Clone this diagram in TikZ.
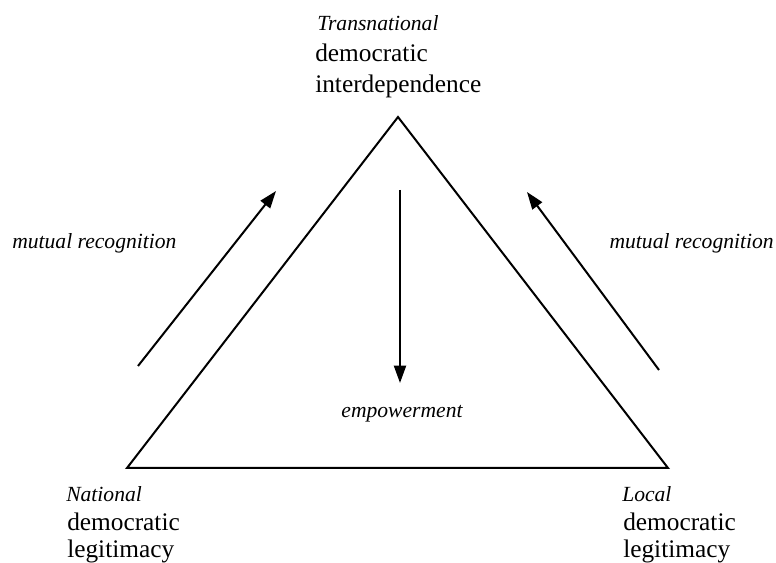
\documentclass[tikz,border=0pt]{standalone}
\usepackage{fontspec}
\setmainfont{Liberation Serif}
\usetikzlibrary{arrows.meta}
\begin{document}
\begin{tikzpicture}[x=0.75pt,y=-0.75pt,
  edge/.style={line width=1.5pt},
  arr/.style={line width=1.5pt,-{Triangle[length=13pt,width=9pt]}},
  lbl/.style={inner sep=0pt,anchor=base west,font=\fontsize{19}{22}\selectfont},
  ilbl/.style={inner sep=0pt,anchor=base west,font=\fontsize{16.2}{20}\selectfont\itshape}]
\useasboundingbox (0,0) rectangle (776,563);
\coordinate (T) at (398,117);
\coordinate (L) at (127,468);
\coordinate (R) at (668,468);
\draw[edge,line join=miter] (T) -- (L) -- (R) -- cycle;
\coordinate (a1s) at (138,366);
\coordinate (a1e) at (276,191);
\coordinate (a2s) at (659,370);
\coordinate (a2e) at (527,192);
\coordinate (a3s) at (400,190);
\coordinate (a3e) at (400,383);
\draw[arr] (a1s) -- (a1e);
\draw[arr] (a2s) -- (a2e);
\draw[arr] (a3s) -- (a3e);
\node[ilbl] (t1) at (317,31) {Transnational};
\node[lbl] (t2) at (315,62) {democratic};
\node[lbl] (t3) at (315,93) {interdependence};
\node[ilbl] (n1) at (66,502) {National};
\node[lbl] (n2) at (67,530) {democratic};
\node[lbl] (n3) at (67,557) {legitimacy};
\node[ilbl] (l1) at (622,502) {Local};
\node[lbl] (l2) at (623,530) {democratic};
\node[lbl] (l3) at (623,557) {legitimacy};
\node[ilbl] (m1) at (12,249) {mutual recognition};
\node[ilbl,anchor=base east] (m2) at (774,249) {mutual recognition};
\node[ilbl,anchor=base] (e) at (402,418) {empowerment};
\end{tikzpicture}
\end{document}
